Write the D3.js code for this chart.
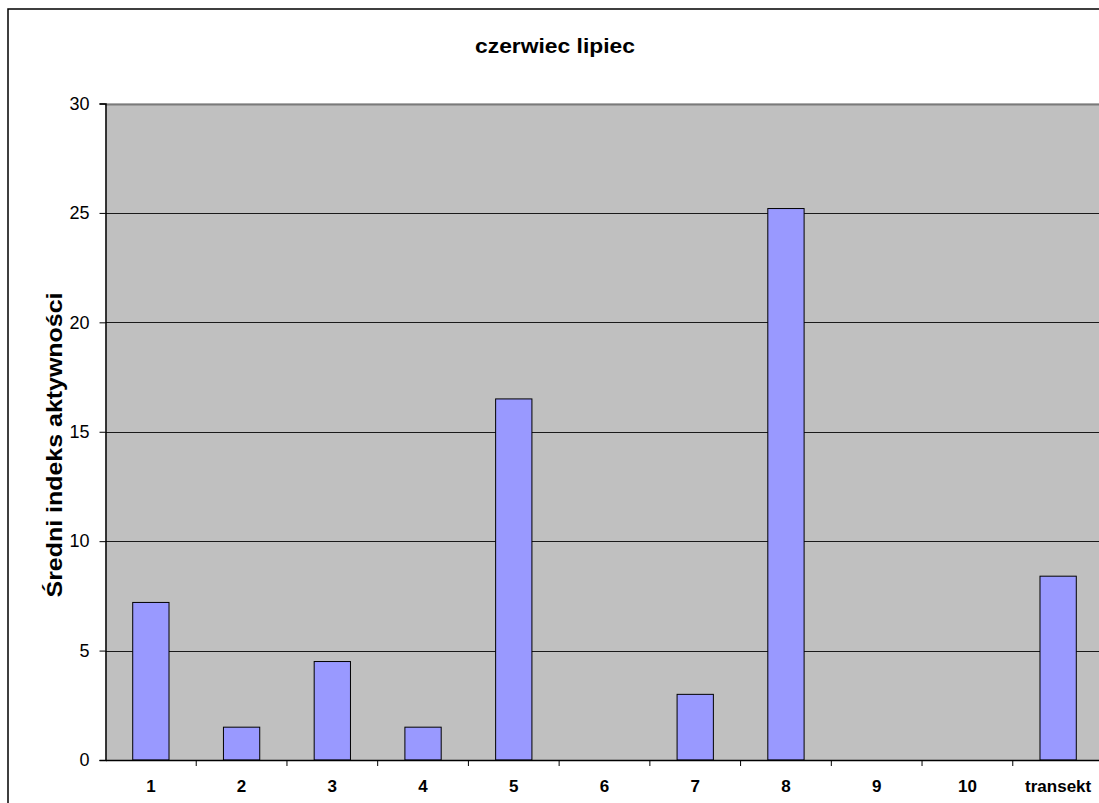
<!DOCTYPE html>
<html>
<head>
<meta charset="utf-8">
<script src="https://cdn.jsdelivr.net/npm/d3@7"></script>
<style>
  html, body { margin: 0; padding: 0; background: #fff; }
  svg { display: block; font-family: "Liberation Sans", Arial, sans-serif; }
</style>
</head>
<body>
<svg id="chart" width="1099" height="803"></svg>
<script>
// Average activity index per site, June–July
const categories = ["1", "2", "3", "4", "5", "6", "7", "8", "9", "10", "transekt"];
const values = [7.2, 1.5, 4.5, 1.5, 16.5, 0, 3.0, 25.2, 0, 0, 8.4];
const yTicks = [0, 5, 10, 15, 20, 25, 30];
const title = "czerwiec lipiec";
const yLabel = "Średni indeks aktywności";

const svg = d3.select("#chart");

// outer chart frame
svg.append("rect")
  .attr("x", 8).attr("y", 9)
  .attr("width", 1200).attr("height", 900)
  .attr("fill", "#fff").attr("stroke", "#000").attr("stroke-width", 1.5);

const plot = { left: 105.5, top: 103.5, width: 998, height: 656.5 };

const x = d3.scaleBand()
  .domain(categories)
  .range([plot.left, plot.left + plot.width])
  .paddingInner(0).paddingOuter(0);

const y = d3.scaleLinear()
  .domain([0, 30])
  .range([plot.top + plot.height, plot.top]);

// plot background
svg.append("rect")
  .attr("x", plot.left).attr("y", plot.top)
  .attr("width", plot.width).attr("height", plot.height)
  .attr("fill", "#c0c0c0");

// horizontal gridlines
svg.append("g")
  .selectAll("line")
  .data(yTicks.filter(d => d > 0))
  .join("line")
  .attr("x1", plot.left).attr("x2", plot.left + plot.width)
  .attr("y1", d => Math.round(y(d)) + 0.5).attr("y2", d => Math.round(y(d)) + 0.5)
  .attr("stroke", d => d === 30 ? "#7a7a7a" : "#1a1a1a")
  .attr("stroke-width", d => d === 30 ? 2 : 1);

// bars
const barW = x.bandwidth() * 0.4;
svg.append("g")
  .selectAll("rect")
  .data(categories.map((c, i) => ({ c, v: values[i] })).filter(d => d.v > 0))
  .join("rect")
  .attr("x", d => x(d.c) + (x.bandwidth() - barW) / 2)
  .attr("y", d => y(d.v))
  .attr("width", barW)
  .attr("height", d => y(0) - y(d.v))
  .attr("fill", "#9999ff")
  .attr("stroke", "#000")
  .attr("stroke-width", 1);

// y axis
const yAxis = d3.axisLeft(y).tickValues(yTicks).tickSize(6).tickPadding(10);
const gy = svg.append("g")
  .attr("transform", `translate(${plot.left},0)`)
  .call(yAxis);
gy.select(".domain").attr("stroke", "#000").attr("stroke-width", 1.5);
gy.selectAll(".tick line").attr("stroke", "#000");
gy.selectAll(".tick text")
  .attr("font-size", 18).attr("fill", "#000")
  .attr("font-family", "Liberation Sans, Arial, sans-serif");

// x axis
const xAxis = d3.axisBottom(x).tickSize(0).tickPadding(19.5);
const gx = svg.append("g")
  .attr("transform", `translate(0,${y(0)})`)
  .call(xAxis);
gx.select(".domain").attr("stroke", "#000").attr("stroke-width", 1.5);
gx.selectAll(".tick text")
  .attr("font-size", 17).attr("font-weight", "bold").attr("fill", "#000")
  .attr("font-family", "Liberation Sans, Arial, sans-serif");

// category separator ticks below the axis
svg.append("g")
  .selectAll("line")
  .data(categories.slice(1))
  .join("line")
  .attr("x1", d => x(d)).attr("x2", d => x(d))
  .attr("y1", y(0)).attr("y2", y(0) + 6)
  .attr("stroke", "#000");

// title
svg.append("text")
  .attr("x", 555).attr("y", 53)
  .attr("text-anchor", "middle")
  .attr("font-size", 20).attr("font-weight", "bold")
  .attr("textLength", 160).attr("lengthAdjust", "spacingAndGlyphs")
  .text(title);

// y axis label
svg.append("text")
  .attr("transform", `translate(62,${445}) rotate(-90)`)
  .attr("text-anchor", "middle")
  .attr("font-size", 22).attr("font-weight", "bold")
  .attr("textLength", 305).attr("lengthAdjust", "spacingAndGlyphs")
  .text(yLabel);
</script>
</body>
</html>
